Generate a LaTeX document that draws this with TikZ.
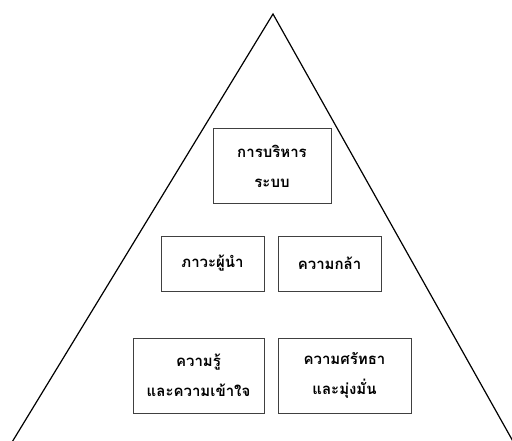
\documentclass[tikz,border=0pt]{standalone}
\usepackage{fontspec}
\newfontfamily\thaifont[Script=Thai]{Loma}
\begin{document}
\begin{tikzpicture}[x=1pt,y=-1pt,
  boxnode/.style={draw=black!75,line width=0.8pt,fill=white,inner sep=0pt,
    font=\thaifont\bfseries\fontsize{15}{30}\selectfont,align=center},
  edge/.style={line width=1.2pt,black}]
\useasboundingbox (0,0) rectangle (512,440);
\clip (0,0) rectangle (512,440);
\coordinate (apex) at (273,14);
\coordinate (bl) at (6,452);
\coordinate (br) at (519,452);
\draw[edge] (bl) -- (apex) -- (br);
\node[boxnode,minimum width=118,minimum height=75] (b1) at (272,166) {การบริหาร\\ระบบ};
\node[boxnode,minimum width=103,minimum height=55] (b2) at (212.5,263.5) {ภาวะผู้นำ};
\node[boxnode,minimum width=103,minimum height=55] (b3) at (329.5,263.5) {ความกล้า};
\node[boxnode,minimum width=131,minimum height=75] (b4) at (198.5,375.5) {ความรู้\\และความเข้าใจ};
\node[boxnode,minimum width=133,minimum height=75] (b5) at (344.5,375.5) {ความศรัทธา\\และมุ่งมั่น};
\end{tikzpicture}
\end{document}
